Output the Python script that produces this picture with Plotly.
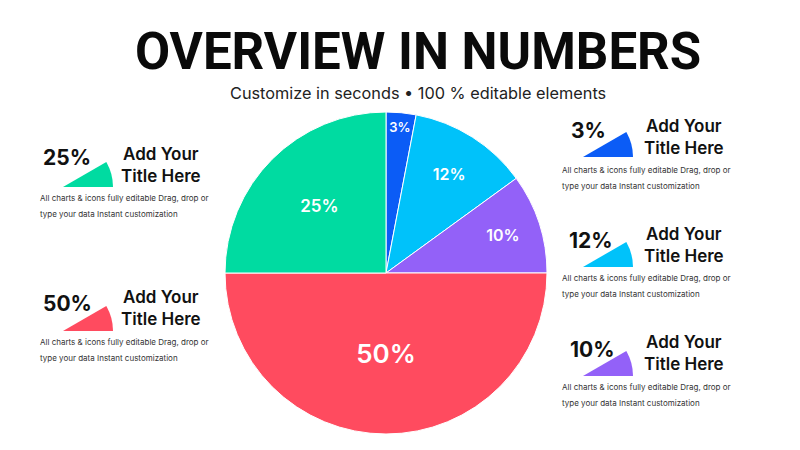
import plotly.graph_objects as go

W, H = 800, 450
OFF = 8  # page body margin

# ---- data ----
slice_labels = ["3%", "12%", "10%", "50%", "25%"]
slice_values = [3, 12, 10, 50, 25]
slice_colors = ["#0B5CF6", "#00C2FA", "#9361F8", "#FF4B5F", "#00DBA1"]
slice_text_sizes = [13, 16, 16, 26, 17]

left_items = ["25%", "50%"]
left_colors = ["#00DBA1", "#FF4B5F"]
right_items = ["3%", "12%", "10%"]
right_colors = ["#0B5CF6", "#00C2FA", "#9361F8"]

item_title = "Add Your<br>Title Here"
item_desc_1 = "All charts & icons fully editable Drag, drop or"
item_desc_2 = "type your data Instant customization"

title_text = "OVERVIEW IN NUMBERS"
subtitle_text = "Customize in seconds \u2022 100 % editable elements"

ICON_WEDGE = [1, 11]  # decorative 30-degree wedge


def px(x):
    return (x - OFF) / W


def py(y):
    return 1 - (y - OFF) / H


fig = go.Figure()

# main pie
cx, cy, r = 386, 273, 161
fig.add_trace(go.Pie(
    values=slice_values,
    labels=slice_labels,
    text=slice_labels,
    textinfo="text",
    textposition="inside",
    insidetextorientation="horizontal",
    textfont=dict(family="Inter", size=slice_text_sizes, color="white", weight=600),
    marker=dict(colors=slice_colors, line=dict(color="white", width=1)),
    sort=False,
    direction="clockwise",
    rotation=0,
    domain=dict(x=[px(cx - r), px(cx + r)], y=[py(cy + r), py(cy - r)]),
    hoverinfo="label",
    showlegend=False,
))

# icons (decorative wedges)
icon_r = 50
icon_apex = [(63, 187), (63, 331), (583, 157), (583, 267), (583, 376)]
icon_cols = left_colors + right_colors
for (ax, ay), col in zip(icon_apex, icon_cols):
    fig.add_trace(go.Pie(
        values=ICON_WEDGE,
        textinfo="none",
        marker=dict(colors=[col, "rgba(0,0,0,0)"], line=dict(width=0)),
        sort=False,
        direction="clockwise",
        rotation=60,
        domain=dict(x=[px(ax - icon_r), px(ax + icon_r)],
                    y=[py(ay + icon_r), py(ay - icon_r)]),
        hoverinfo="skip",
        showlegend=False,
    ))

ann = []
ann.append(dict(text=title_text, x=px(418), y=py(52), xref="paper", yref="paper",
                showarrow=False, xanchor="center", yanchor="middle",
                font=dict(family="Roboto", size=51, color="#0a0a0a", weight=700)))
ann.append(dict(text=subtitle_text, x=px(418), y=py(93), xref="paper", yref="paper",
                showarrow=False, xanchor="center", yanchor="middle",
                font=dict(family="Inter", size=16.3, color="#222222")))

# side blocks: (pct x-center, pct y, title x-center, title y-center, desc x, desc y1)
left_layout = [(67, 158, 161, 165, 38, 198), (67, 303, 161, 308, 38, 342)]
right_layout = [(588, 131, 684, 137, 560, 170), (591, 240, 684, 245, 560, 278), (592, 349, 684, 353, 560, 387)]

blocks = list(zip(left_items, left_layout)) + list(zip(right_items, right_layout))
for lab, (pxc, pyc, tx, ty, dx, dy) in blocks:
    ann.append(dict(text=lab, x=px(pxc), y=py(pyc), xref="paper", yref="paper",
                    showarrow=False, xanchor="center", yanchor="middle",
                    font=dict(family="Inter", size=21, color="#111111", weight=700)))
    ann.append(dict(text=item_title, x=px(tx), y=py(ty), xref="paper", yref="paper",
                    showarrow=False, xanchor="center", yanchor="middle", align="center",
                    font=dict(family="Inter", size=17, color="#111111", weight=600)))
    ann.append(dict(text=item_desc_1, x=px(dx), y=py(dy), xref="paper", yref="paper",
                    showarrow=False, xanchor="left", yanchor="middle",
                    font=dict(family="Inter", size=8, color="#333333")))
    ann.append(dict(text=item_desc_2, x=px(dx), y=py(dy + 16), xref="paper", yref="paper",
                    showarrow=False, xanchor="left", yanchor="middle",
                    font=dict(family="Inter", size=8, color="#333333")))

fig.update_layout(
    width=W, height=H,
    margin=dict(l=0, r=0, t=0, b=0),
    paper_bgcolor="white", plot_bgcolor="white",
    annotations=ann,
    showlegend=False,
)

fig.write_html("out.html")
